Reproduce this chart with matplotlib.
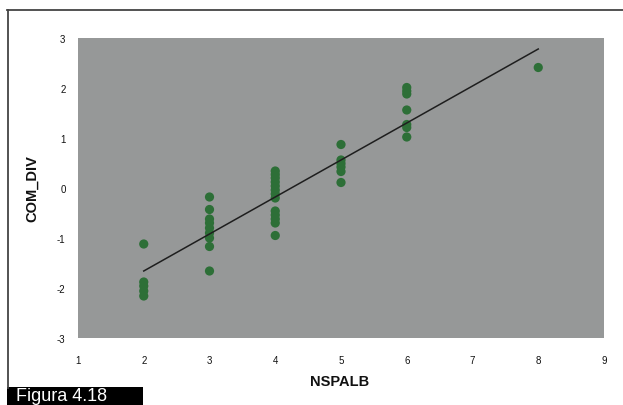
import matplotlib
matplotlib.use("Agg")
import matplotlib.pyplot as plt
from matplotlib.lines import Line2D
from matplotlib.patches import Rectangle

plt.rcParams['font.family'] = ['Liberation Sans', 'DejaVu Sans']
plt.rcParams['axes.unicode_minus'] = False

# Data
nspalb_2 = [-1.12, -1.88, -1.96, -2.06, -2.16]
nspalb_3 = [-0.18, -0.43, -0.62, -0.70, -0.80, -0.90, -1.00, -1.17, -1.66]
nspalb_4 = [0.34, 0.27, 0.20, 0.12, 0.04, -0.04, -0.12, -0.20, -0.46, -0.54, -0.62, -0.70, -0.95]
nspalb_5 = [0.87, 0.56, 0.49, 0.42, 0.33, 0.11]
nspalb_6 = [2.01, 1.94, 1.88, 1.56, 1.27, 1.21, 1.02]
nspalb_8 = [2.41]
groups = [2, 3, 4, 5, 6, 8]
values = [nspalb_2, nspalb_3, nspalb_4, nspalb_5, nspalb_6, nspalb_8]

fit_x = [2, 8]
fit_y = [-1.66, 2.78]

x_ticks = [1, 2, 3, 4, 5, 6, 7, 8, 9]
y_ticks = [-3, -2, -1, 0, 1, 2, 3]

W, H = 623, 406
fig = plt.figure(figsize=(W / 100, H / 100), dpi=100)
fig.patch.set_facecolor('white')

left, right, top, bottom = 78, 604, 39, 339
ax = fig.add_axes([left / W, 1 - bottom / H, (right - left) / W, (bottom - top) / H])
ax.set_facecolor('#969898')

xs, ys = [], []
for g, vals in zip(groups, values):
    xs += [g] * len(vals)
    ys += vals
ax.scatter(xs, ys, s=44, color='#2d6f37', edgecolors='none', zorder=3)
ax.plot(fit_x, fit_y, color='#1e1e1e', lw=1.1, zorder=4)

ax.set_xlim(1, 9)
ax.set_ylim(-3, 3)
ax.set_xticks(x_ticks)
ax.set_yticks(y_ticks)
ax.tick_params(axis='both', length=0, labelsize=7, colors='#111111')
ax.tick_params(axis='x', pad=12)
ax.tick_params(axis='y', pad=9)
for s in ax.spines.values():
    s.set_visible(False)

ax.set_xlabel('NSPALB', fontsize=10.5, fontweight='bold', color='#111111')
ax.xaxis.set_label_coords((340 - left) / (right - left), (bottom - 382) / (bottom - top))
ax.xaxis.label.set_va('center')
ax.set_ylabel('COM_DIV', fontsize=10.5, fontweight='bold', color='#111111')
ax.yaxis.set_label_coords((32 - left) / (right - left), 0.5 + (188.5 - (top + bottom) / 2) / -(bottom - top))
ax.yaxis.label.set_va('center')

# outer frame lines (top and left)
fig.add_artist(Line2D([7 / W, 1.0], [1 - 11 / H, 1 - 11 / H], color='#444444', lw=1.3))
fig.add_artist(Line2D([8 / W, 8 / W], [1 - 11 / H, 1 - 389 / H], color='#444444', lw=1.3))

# figure caption box
fig.add_artist(Rectangle((7 / W, 0), (143 - 7) / W, (406 - 388) / H,
                         transform=fig.transFigure, facecolor='black', edgecolor='none'))
fig.text(16 / W, 0.5 / H, 'Figura 4.18', color='white', fontsize=13,
         ha='left', va='bottom')

fig.savefig('out.png', dpi=100)
